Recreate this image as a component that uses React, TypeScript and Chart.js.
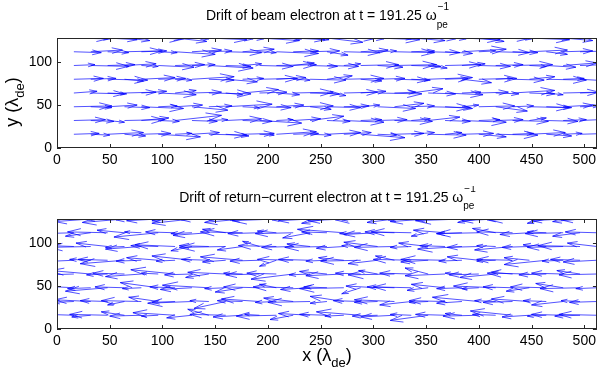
import React, { useEffect, useRef } from "react";
import { Chart, registerables } from "chart.js";

Chart.register(...registerables);

const X_GRID = [16, 32, 48, 64, 80, 96, 112, 128, 144, 160, 176, 192, 208, 224, 240, 256, 272, 288, 304, 320, 336, 352, 368, 384, 400, 416, 432, 448, 464, 480, 496, 512];
const Y_GRID = [16, 32, 48, 64, 80, 96, 112, 128];
const X_TICKS = [0, 50, 100, 150, 200, 250, 300, 350, 400, 450, 500];
const Y_TICKS = [0, 50, 100];

const BEAM_U = [
  [24, 18, 34, 20, 28, 40, 16, 26, 36, 22, 30, 14, 38, 24, 20, 32, 26, 42, 18, 28, 22, 36, 16, 30, 26, 40, 20, 34, 24, 18, 30, 26],
  [30, 22, 16, 38, 26, 20, 44, 24, 18, 34, 28, 40, 16, 26, 32, 22, 38, 20, 28, 36, 18, 30, 24, 42, 20, 26, 34, 16, 30, 22, 38, 24],
  [36, 20, 28, 24, 40, 18, 26, 34, 22, 44, 16, 30, 26, 38, 20, 32, 24, 18, 36, 28, 22, 40, 26, 16, 34, 30, 20, 38, 24, 28, 18, 32],
  [22, 32, 18, 30, 24, 36, 20, 28, 40, 16, 34, 26, 22, 38, 28, 18, 32, 24, 42, 20, 30, 26, 36, 18, 28, 22, 40, 24, 16, 34, 26, 30],
  [28, 24, 38, 18, 32, 26, 16, 40, 24, 30, 20, 36, 28, 16, 34, 24, 38, 20, 26, 32, 18, 42, 22, 28, 36, 16, 30, 24, 38, 20, 28, 26],
  [20, 36, 26, 30, 16, 34, 28, 22, 42, 24, 18, 32, 38, 20, 26, 30, 16, 36, 24, 40, 28, 18, 34, 22, 30, 26, 38, 16, 28, 32, 24, 20],
  [26, 30, 20, 36, 24, 18, 38, 28, 22, 34, 30, 16, 40, 24, 28, 20, 34, 26, 18, 38, 22, 30, 26, 42, 16, 32, 24, 36, 20, 28, 30, 24],
  [32, 18, 28, 24, 40, 22, 30, 16, 36, 26, 20, 38, 24, 30, 18, 34, 28, 22, 40, 16, 32, 26, 20, 36, 24, 30, 18, 38, 22, 28, 34, 26],
];

const BEAM_V = [
  [1, -1, 2, -2, 1, -3, 1, 2, -1, -2, 1, -1, 3, 1, -1, 2, 2, -4, -1, 1, 2, -1, 2, 1, -3, -1, 1, 2, -2, 1, 1, -1],
  [1, -1, -2, 1, 3, -1, 6, -1, 1, 2, -1, -3, 1, 2, 5, -1, -2, 1, 1, -1, 2, 4, -1, -2, 1, 1, -1, 3, -1, 1, 2, -1],
  [1, -1, 2, -1, -2, 1, 2, -4, 1, 3, -1, -1, 2, 1, -3, -1, 1, 2, -2, 4, 1, -1, -2, 2, 1, -5, 1, -1, -1, 2, 1, -1],
  [2, -1, -1, 1, 2, -2, 3, 1, -1, -2, 4, 1, -2, 1, -1, -3, 1, 2, -1, 1, 5, -1, -2, 1, 1, -1, 3, -1, -2, 1, 1, -1],
  [1, 1, -1, -2, 2, 1, -1, 3, -1, -3, 1, 1, 2, -1, -1, 4, 1, -2, 1, -1, -1, 2, 1, -4, 1, 1, -1, 3, -1, 1, -2, 1],
  [1, -1, 1, 2, -1, -2, 1, 1, -3, -1, 2, -1, 1, 3, -1, -1, 2, 1, -2, 1, -1, -3, 1, 2, -1, 1, 1, -1, -2, 3, 1, -1],
  [-1, 2, -1, 1, 1, -1, -3, 2, 1, -1, 3, -1, -2, 1, 1, -4, -1, 2, 1, -1, 1, -1, -2, 3, 1, -1, -1, 2, -3, 1, 1, -1],
  [-1, -1, -2, -3, -1, -1, -4, -1, -2, -1, -1, -3, -1, -2, -2, -5, -1, -1, -2, -1, -3, -1, -1, -2, -4, -1, -1, -2, -1, -3, -1, -1],
];

const RETURN_U = [
  [-26, -18, -36, -22, -30, -16, -40, -24, -20, -34, -28, -14, -38, -22, -30, -26, -18, -42, -24, -32, -20, -36, -28, -16, -34, -22, -40, -26, -18, -30, -24, -36],
  [-20, -34, -26, -16, -38, -28, -22, -42, -18, -30, -24, -36, -20, -28, -40, -16, -32, -26, -22, -38, -30, -18, -34, -24, -44, -20, -28, -36, -22, -30, -18, -26],
  [-32, -22, -40, -28, -18, -36, -24, -30, -44, -20, -26, -34, -16, -38, -28, -22, -42, -18, -30, -26, -36, -20, -32, -24, -16, -40, -28, -22, -34, -26, -38, -20],
  [-24, -38, -20, -30, -34, -16, -42, -26, -22, -36, -18, -32, -28, -40, -20, -26, -36, -24, -18, -44, -30, -22, -38, -16, -28, -34, -20, -40, -26, -30, -22, -36],
  [-36, -20, -28, -42, -24, -30, -18, -38, -26, -22, -40, -28, -16, -34, -30, -20, -24, -38, -28, -18, -36, -26, -42, -22, -30, -18, -34, -24, -40, -20, -28, -32],
  [-22, -40, -30, -18, -34, -26, -38, -20, -28, -44, -24, -16, -36, -30, -22, -40, -26, -18, -32, -38, -20, -28, -24, -42, -30, -18, -36, -26, -22, -34, -40, -28],
  [-30, -24, -38, -26, -16, -42, -28, -20, -34, -22, -40, -30, -18, -36, -26, -24, -44, -20, -32, -28, -38, -16, -30, -24, -40, -22, -34, -28, -18, -36, -26, -30],
  [-28, -34, -18, -40, -24, -30, -22, -38, -26, -16, -36, -28, -42, -20, -30, -24, -34, -18, -40, -26, -22, -36, -28, -44, -20, -32, -24, -38, -18, -30, -26, -34],
];

const RETURN_V = [
  [1, -2, 1, 4, -1, -1, 3, -3, 7, 1, -2, 1, -1, -5, 2, 1, -1, 4, -1, -2, 1, -6, 1, 2, -1, 1, 5, -2, -1, 1, -1, 1],
  [-1, 2, 1, -4, 1, 5, -1, -2, 1, -8, 1, 3, -1, 4, -1, -2, 6, 1, -1, 2, -4, -1, 1, -2, 5, 1, -1, 3, 1, -4, 1, -1],
  [2, -1, -4, 1, -1, 6, 1, -2, 3, -1, -5, 1, 4, 1, -2, 1, -1, -7, 2, 1, 1, -3, 4, -1, -1, 2, 1, -4, 1, 5, -1, -1],
  [-1, 4, -1, 1, -3, 1, 5, -1, -4, 2, 1, -1, 1, -6, -1, 3, -2, 1, 4, -1, 1, 7, -2, 1, -1, -4, 2, 1, -1, 1, 4, -1],
  [-2, 1, 1, -4, -1, 3, -1, 5, 1, -2, 4, -1, -7, 1, 1, -1, 3, -1, -4, 5, 1, -2, 1, -1, 4, -1, 1, 3, -5, -1, 1, -2],
  [1, -1, 4, -1, -3, 1, 2, -5, 1, -1, -4, 6, 1, -1, 3, -1, -2, 1, 5, -1, -1, 4, 1, -3, -1, 1, -4, -1, 2, -1, 1, 4],
  [-1, -4, 1, 3, 1, -5, 1, -1, -3, 4, 1, -1, 2, -1, -6, 1, 4, -1, -2, 1, 1, -4, 3, -1, -1, 5, 1, -2, 1, -1, -4, 1],
  [-1, -3, -1, -4, -1, -2, -2, -5, -1, -1, -4, -1, -2, -1, -2, -5, -2, -1, -1, -4, -1, -3, -1, -2, -4, -2, -1, -1, -5, -2, -3, -1],
];

const FONT = '"Liberation Sans", Arial, Helvetica, sans-serif';

function quiverPoints(U: number[][], V: number[][]) {
  const alpha = 0.33;
  const beta = 0.33;
  const pts: any[] = [];
  Y_GRID.forEach((y, r) => {
    X_GRID.forEach((x, c) => {
      const u = U[r][c];
      const v = V[r][c];
      const tx = x + u;
      const ty = y + v;
      pts.push({ x, y }, { x: tx, y: ty }, { x: null, y: null });
      pts.push(
        { x: tx - alpha * (u + beta * v), y: ty - alpha * (v - beta * u) },
        { x: tx, y: ty },
        { x: tx - alpha * (u - beta * v), y: ty - alpha * (v + beta * u) },
        { x: null, y: null }
      );
    });
  });
  return pts;
}

function drawRich(ctx: CanvasRenderingContext2D, parts: { t: string; size: number; dy: number }[], cx: number, baseline: number) {
  let total = 0;
  for (const p of parts) {
    ctx.font = `${p.size}px ${FONT}`;
    total += ctx.measureText(p.t).width;
  }
  let x = cx - total / 2;
  ctx.textAlign = "left";
  ctx.textBaseline = "alphabetic";
  for (const p of parts) {
    ctx.font = `${p.size}px ${FONT}`;
    ctx.fillText(p.t, x, baseline + p.dy);
    x += ctx.measureText(p.t).width;
  }
}

type PanelOpts = {
  title: string;
  titleBaseline: number;
  xLabel: boolean;
  yLabel: boolean;
};

const decorPlugin = {
  id: "decor",
  afterDraw(chart: any, _args: any, opts: PanelOpts) {
    const ctx: CanvasRenderingContext2D = chart.ctx;
    const a = chart.chartArea;
    const xs = chart.scales.x;
    const ys = chart.scales.y;
    ctx.save();
    ctx.strokeStyle = "#262626";
    ctx.lineWidth = 1;
    ctx.strokeRect(Math.round(a.left) + 0.5, Math.round(a.top) + 0.5, Math.round(a.right - a.left) - 1, Math.round(a.bottom - a.top) - 1);
    const TL = 4;
    ctx.beginPath();
    for (const v of X_TICKS) {
      const px = Math.round(xs.getPixelForValue(v)) + 0.5;
      ctx.moveTo(px, a.bottom);
      ctx.lineTo(px, a.bottom - TL);
      ctx.moveTo(px, a.top);
      ctx.lineTo(px, a.top + TL);
    }
    for (const v of Y_TICKS) {
      const py = Math.round(ys.getPixelForValue(v)) + 0.5;
      ctx.moveTo(a.left, py);
      ctx.lineTo(a.left + TL, py);
      ctx.moveTo(a.right, py);
      ctx.lineTo(a.right - TL, py);
    }
    ctx.stroke();

    ctx.fillStyle = "#000";
    const cx = (a.left + a.right) / 2;
    ctx.font = `14px ${FONT}`;
    const wMain = ctx.measureText(opts.title).width;
    ctx.font = `10px ${FONT}`;
    const wSup = ctx.measureText("\u22121").width;
    const wSub = ctx.measureText("pe").width;
    const wStack = Math.max(wSup, wSub);
    const x0 = cx - (wMain + wStack) / 2;
    ctx.textAlign = "left";
    ctx.textBaseline = "alphabetic";
    ctx.font = `14px ${FONT}`;
    ctx.fillText(opts.title, x0, opts.titleBaseline);
    ctx.font = `10px ${FONT}`;
    ctx.fillText("\u22121", x0 + wMain + 1, opts.titleBaseline - 10);
    ctx.fillText("pe", x0 + wMain, opts.titleBaseline + 7.5);

    const labelParts = (v: string) => [
      { t: `${v} (\u03bb`, size: 18, dy: 0 },
      { t: "de", size: 13, dy: 6 },
      { t: ")", size: 18, dy: 0 },
    ];
    if (opts.xLabel) {
      drawRich(ctx, labelParts("x"), cx, 175);
    }
    if (opts.yLabel) {
      ctx.save();
      ctx.translate(18, 102);
      ctx.rotate(-Math.PI / 2);
      drawRich(ctx, labelParts("y"), 0, 0);
      ctx.restore();
    }
    ctx.restore();
  },
};

function Panel(props: {
  top: number;
  height: number;
  areaTop: number;
  axisH: number;
  U: number[][];
  V: number[][];
  opts: PanelOpts;
}) {
  const ref = useRef<HTMLCanvasElement>(null);
  useEffect(() => {
    const tickFont = { family: FONT, size: 14 };
    const chart = new Chart(ref.current as HTMLCanvasElement, {
      type: "scatter",
      data: {
        datasets: [
          {
            data: quiverPoints(props.U, props.V),
            showLine: true,
            spanGaps: false,
            pointRadius: 0,
            pointHoverRadius: 0,
            borderColor: "rgba(0,0,255,0.68)",
            borderWidth: 1,
            tension: 0,
          } as any,
        ],
      },
      options: {
        animation: false,
        responsive: false,
        devicePixelRatio: 1,
        events: [],
        layout: { padding: { top: props.areaTop, left: 0, right: 2, bottom: 0 } },
        plugins: {
          legend: { display: false },
          title: { display: false },
          tooltip: { enabled: false },
          decor: props.opts,
        } as any,
        scales: {
          x: {
            type: "linear",
            min: 0,
            max: 512,
            grid: { display: false, drawTicks: false },
            border: { display: false },
            ticks: { color: "#000", font: tickFont, padding: 4, maxRotation: 0, autoSkip: false },
            afterBuildTicks: (s: any) => {
              s.ticks = X_TICKS.map((v) => ({ value: v }));
            },
            afterFit: (s: any) => {
              s.height = props.axisH;
            },
          },
          y: {
            type: "linear",
            min: 0,
            max: 128,
            grid: { display: false, drawTicks: false },
            border: { display: false },
            ticks: { color: "#000", font: tickFont, padding: 5, autoSkip: false },
            afterBuildTicks: (s: any) => {
              s.ticks = Y_TICKS.map((v) => ({ value: v }));
            },
            afterFit: (s: any) => {
              s.width = 57;
            },
          },
        },
      },
      plugins: [decorPlugin as any],
    });
    return () => chart.destroy();
  }, []);
  return (
    <canvas
      ref={ref}
      width={600}
      height={props.height}
      style={{ position: "absolute", left: 0, top: props.top, width: 600, height: props.height, display: "block" }}
    />
  );
}

export default function App() {
  return (
    <div style={{ position: "fixed", left: 0, top: 0, width: 600, height: 373, background: "#fff", overflow: "hidden" }}>
      <Panel
        top={0}
        height={186}
        areaTop={38}
        axisH={38}
        U={BEAM_U}
        V={BEAM_V}
        opts={{ title: "Drift of beam electron at t = 191.25 \u03c9", titleBaseline: 20, xLabel: false, yLabel: true }}
      />
      <Panel
        top={186}
        height={187}
        areaTop={33}
        axisH={44}
        U={RETURN_U}
        V={RETURN_V}
        opts={{ title: "Drift of return\u2212current electron at t = 191.25 \u03c9", titleBaseline: 15.5, xLabel: true, yLabel: false }}
      />
    </div>
  );
}
